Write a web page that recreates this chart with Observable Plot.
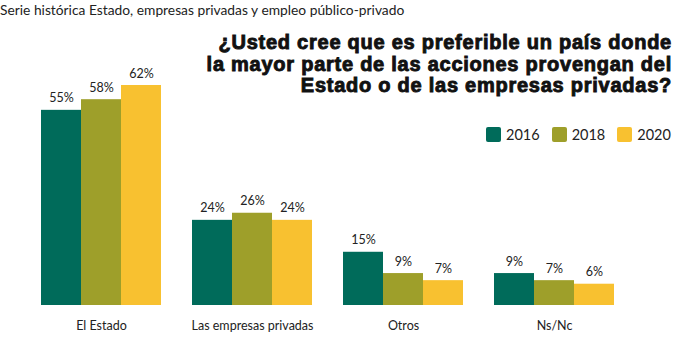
<!DOCTYPE html>
<html>
<head>
<meta charset="utf-8">
<script src="https://cdn.jsdelivr.net/npm/d3@7"></script>
<script src="https://cdn.jsdelivr.net/npm/@observablehq/plot@0.6"></script>
<style>
  html, body { margin: 0; padding: 0; background: #fff; }
  #wrap { position: relative; width: 687px; height: 349px; overflow: hidden; }
  #sub { position: absolute; left: 0px; top: 1px; font-family: Lato, sans-serif; font-size: 13.8px; color: #222; white-space: nowrap; }
  #title { position: absolute; right: 15px; top: 32px; font-family: "Liberation Sans", Arial, sans-serif; font-weight: 900; font-size: 20px; letter-spacing: 0.75px; line-height: 21.5px; text-align: right; color: #111; white-space: nowrap; -webkit-text-stroke: 0.9px #111; }
  #legend { position: absolute; left: 486px; top: 126px; font-family: Lato, sans-serif; font-size: 14.5px; color: #222; display: flex; }
  #legend .item { display: flex; align-items: center; margin-right: 12px; }
  #legend .sw { width: 15px; height: 15px; border-radius: 2px; margin-right: 5px; }
  svg { position: absolute; left: 0; top: 0; }
</style>
</head>
<body>
<div id="wrap"></div>
<script>
const subtitle = "Serie histórica Estado, empresas privadas y empleo público-privado";
const titleLines = ["¿Usted cree que es preferible un país donde", "la mayor parte de las acciones provengan del", "Estado o de las empresas privadas?"];
const categories = ["El Estado", "Las empresas privadas", "Otros", "Ns/Nc"];
const years = ["2016", "2018", "2020"];
const colors = ["#006B5A", "#9E9F2A", "#F8C130"];
const v2016 = [55, 24, 15, 9];
const v2018 = [58, 26, 9, 7];
const v2020 = [62, 24, 7, 6];

const series = [v2016, v2018, v2020];
const data = [];
categories.forEach((c, i) => years.forEach((y, j) => data.push({cat: c, year: y, value: series[j][i]})));

const wrap = document.getElementById("wrap");

const chart = Plot.plot({
  width: 687,
  height: 349,
  marginLeft: 41,
  marginRight: 72,
  marginTop: 85,
  marginBottom: 44,
  style: {fontFamily: "Lato, sans-serif", fontSize: "12.5px", color: "#222", background: "transparent"},
  fx: {domain: categories, paddingInner: 0.205, paddingOuter: 0, label: null, axis: "bottom", tickSize: 0, tickPadding: 16},
  x: {domain: years, padding: 0, axis: null},
  y: {domain: [0, 62], axis: null},
  color: {domain: years, range: colors},
  marks: [
    Plot.barY(data, {fx: "cat", x: "year", y: "value", fill: "year", inset: 0}),
    Plot.text(data, {fx: "cat", x: "year", y: "value", text: d => d.value + "%", dy: -12, fill: "#222", fontSize: 12.5})
  ]
});
wrap.appendChild(chart);

const sub = document.createElement("div");
sub.id = "sub"; sub.textContent = subtitle; wrap.appendChild(sub);

const title = document.createElement("div");
title.id = "title";
title.innerHTML = titleLines.join("<br>");
wrap.appendChild(title);

const legend = document.createElement("div");
legend.id = "legend";
years.forEach((y, i) => {
  const it = document.createElement("div"); it.className = "item";
  const sw = document.createElement("div"); sw.className = "sw"; sw.style.background = colors[i];
  const t = document.createElement("span"); t.textContent = y;
  it.appendChild(sw); it.appendChild(t); legend.appendChild(it);
});
wrap.appendChild(legend);
</script>
</body>
</html>
